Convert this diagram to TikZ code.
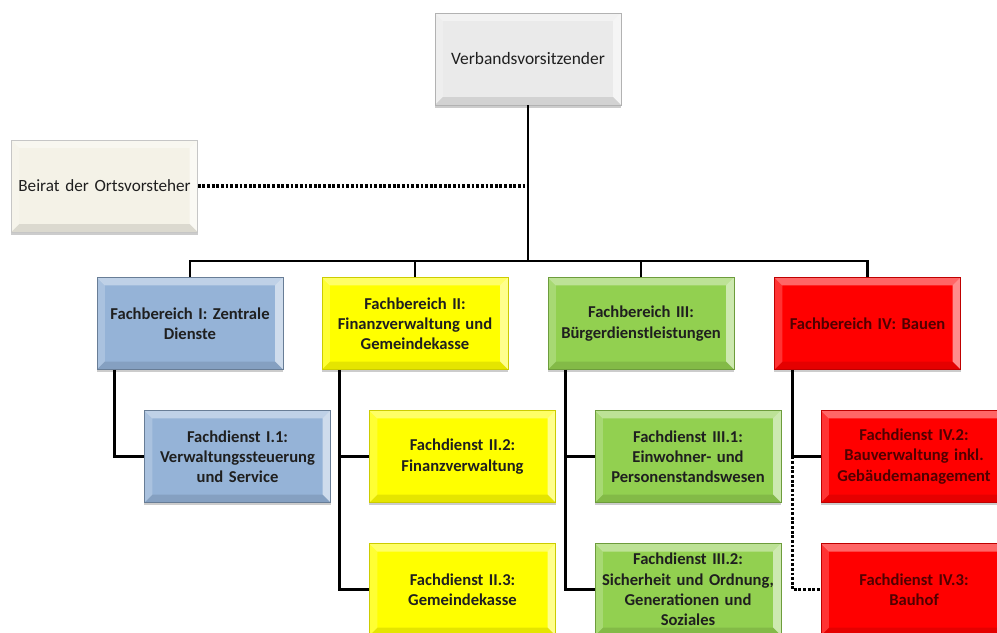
\documentclass[tikz,border=0pt]{standalone}
\usepackage{fontspec}
\setmainfont{Carlito}
\usetikzlibrary{positioning,
	shadows,
	calc}

\definecolor{grau}{RGB}{234,234,234}
\definecolor{creme}{RGB}{244,242,231}
\definecolor{blau}{RGB}{149,179,215}
\definecolor{gelb}{RGB}{255,255,0}
\definecolor{gruen}{RGB}{146,208,80}
\definecolor{rot}{RGB}{255,0,0}
\definecolor{dunkelrot}{RGB}{80,0,0}

% bevelled edges of the boxes
\newcommand{\bv}{0.2cm}
\newcommand{\bevel}{%
	\path (path picture bounding box.north west) coordinate (pnw)
	      (path picture bounding box.north east) coordinate (pne)
	      (path picture bounding box.south west) coordinate (psw)
	      (path picture bounding box.south east) coordinate (pse);
	\fill[white, opacity=.4] (pnw) -- (pne) -- ($(pne)+(-\bv,-\bv)$) -- ($(pnw)+(\bv,-\bv)$) -- cycle;
	\fill[white, opacity=.2] (pnw) -- ($(pnw)+(\bv,-\bv)$) -- ($(psw)+(\bv,\bv)$) -- (psw) -- cycle;
	\fill[white, opacity=.55] (pne) -- ($(pne)+(-\bv,-\bv)$) -- ($(pse)+(-\bv,\bv)$) -- (pse) -- cycle;
	\fill[black, opacity=.1] (psw) -- ($(psw)+(\bv,\bv)$) -- ($(pse)+(-\bv,\bv)$) -- (pse) -- cycle;}

\tikzstyle{box}=[rectangle, minimum width=4.65cm, minimum height=2.3cm,
	text width=4.5cm, align=center, inner sep=0pt, text=black!88,
	font=\fontsize{11.8}{14.4}\selectfont\bfseries,
	drop shadow={shadow xshift=0pt, shadow yshift=-0.07cm, opacity=.4},
	path picture={\bevel}]
\tikzstyle{vs}=[box, fill=grau, draw=gray!60, font=\fontsize{12.4}{14.4}\selectfont]
\tikzstyle{br}=[box, fill=creme, draw=gray!45, font=\fontsize{12.2}{14.4}\selectfont]
\tikzstyle{fbI}=[box, fill=blau, draw=blau!70!black]
\tikzstyle{fbII}=[box, fill=gelb, draw=gelb!80!black]
\tikzstyle{fbIII}=[box, fill=gruen, draw=gruen!75!black]
\tikzstyle{fbIV}=[box, fill=rot, draw=rot!75!black, text=dunkelrot]
\tikzstyle{conn}=[line width=2.1pt, black]
\tikzstyle{dots}=[line width=2.2pt, black, dash pattern=on 2pt off 1.3pt]

\begin{document}
\begin{tikzpicture}[x=0.025cm, y=-0.025cm]
	\useasboundingbox (0,0) rectangle (997,632);
	\clip (0,0) rectangle (997,632);

	% top and advisory board
	\node[vs] (vors) at (528,59) {Verbandsvorsitzender};
	\node[br] (beirat) at (104.5,186) {Beirat der Ortsvorsteher};

	% Fachbereiche
	\node[fbI] (fb1) at (190,323.5) {Fachbereich I: Zentrale\\Dienste};
	\node[fbII] (fb2) at (415,323.5) {Fachbereich II:\\Finanzverwaltung und\\Gemeindekasse};
	\node[fbIII] (fb3) at (641,323.5) {Fachbereich III:\\Bürgerdienstleistungen};
	\node[fbIV] (fb4) at (867.5,323.5) {Fachbereich IV: Bauen};

	% Fachdienste
	\node[fbI] (fd11) at (237.5,456.5) {Fachdienst I.1:\\Verwaltungssteuerung\\und Service};
	\node[fbII] (fd22) at (462.5,456.5) {Fachdienst II.2:\\Finanzverwaltung};
	\node[fbII] (fd23) at (462.5,589.5) {Fachdienst II.3:\\Gemeindekasse};
	\node[fbIII] (fd31) at (688,456.5) {Fachdienst III.1:\\Einwohner- und\\Personenstandswesen};
	\node[fbIII] (fd32) at (688,589.5) {Fachdienst III.2:\\Sicherheit und Ordnung,\\Generationen und\\Soziales};
	\node[fbIV] (fd42) at (914,456.5) {Fachdienst IV.2:\\Bauverwaltung inkl.\\Gebäudemanagement};
	\node[fbIV] (fd43) at (914,589.5) {Fachdienst IV.3:\\Bauhof};

	% connectors
	\coordinate (bar) at (528,261);
	\draw[conn] (vors.south) -- (bar);
	\draw[conn] (fb1.north) |- (bar) -| (fb4.north);
	\draw[conn] (fb2.north) -- (fb2.north |- bar);
	\draw[conn] (fb3.north) -- (fb3.north |- bar);
	\draw[dots] (beirat.east) -- (beirat.east -| bar);

	\coordinate (s1) at ([xshift=0.45cm]fb1.south west);
	\coordinate (s2) at ([xshift=0.45cm]fb2.south west);
	\coordinate (s3) at ([xshift=0.45cm]fb3.south west);
	\coordinate (s4) at ([xshift=0.45cm]fb4.south west);
	\draw[conn] (s1) |- (fd11.west);
	\draw[conn] (s2) |- (fd23.west);
	\draw[conn] (s2 |- fd22.west) -- (fd22.west);
	\draw[conn] (s3) |- (fd32.west);
	\draw[conn] (s3 |- fd31.west) -- (fd31.west);
	\draw[conn] (s4) |- (fd42.west);
	\draw[dots] (s4 |- fd42.west) |- (fd43.west);
\end{tikzpicture}
\end{document}
